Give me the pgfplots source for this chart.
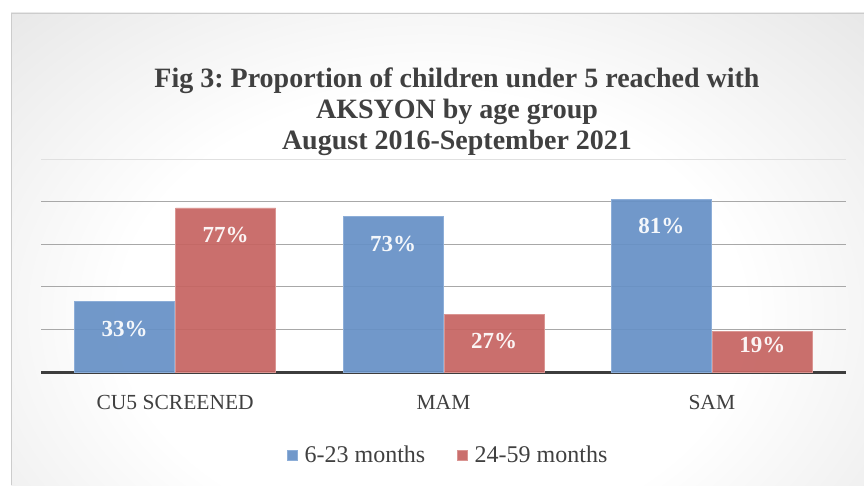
\documentclass[border=0pt]{standalone}
\usepackage{pgfplots}
\pgfplotsset{compat=1.18}
\usepackage{fontspec}
\setmainfont{Liberation Serif}
\frenchspacing
\definecolor{txt}{HTML}{404040}
\definecolor{barBlue}{HTML}{6791C6}
\definecolor{barBlueEdge}{HTML}{8DAED8}
\definecolor{barRed}{HTML}{C66562}
\definecolor{barRedEdge}{HTML}{DA9592}
\definecolor{gridGray}{HTML}{A8A8A8}
\pgfdeclareradialshading{bgglow}{\pgfpoint{0bp}{0bp}}{%
  color(0bp)=(white); color(18bp)=(white); color(40bp)=(white!88!black);
  color(60bp)=(white!78!black); color(75bp)=(white!76!black)}

\pgfplotstableread{
x  young  old
0  33     77
1  73     27
2  81     19
}\reach

\begin{document}
\begin{tikzpicture}
\path[use as bounding box] (0pt,0pt) rectangle (864pt,485pt);
\begin{scope}
\clip (11pt,0pt) rectangle (864pt,472pt);
\shade[shading=bgglow] (0pt,-140pt) rectangle (864pt,480pt);
\end{scope}
\draw[white!80!black,line width=0.6pt] (11pt,0pt) -- (11pt,472pt) -- (864pt,472pt);

\node[font=\fontsize{28}{31}\selectfont\bfseries,text=txt,align=center] at (457pt,373pt)
  {Fig 3: Proportion of children under 5 reached with\\AKSYON by age group\\August 2016-September 2021};

\begin{axis}[
  at={(41pt,113pt)}, anchor=south west,
  scale only axis, width=805pt, height=213pt,
  ybar=1pt, bar width=100pt,
  xmin=-0.5, xmax=2.5, ymin=0, ymax=100,
  axis x line*=bottom, axis y line*=left,
  y axis line style={draw=none},
  x axis line style={line width=3pt,color=txt!95!black,-},
  xtick={0,1,2}, xticklabels={CU5 SCREENED,MAM,SAM},
  major tick length=0pt,
  xticklabel style={font=\fontsize{21.5}{25}\selectfont,text=txt,yshift=-20pt},
  ytick={20,40,60,80}, yticklabels={}, ymajorgrids,
  extra y ticks={100}, extra y tick labels={},
  extra y tick style={grid style={white!88!black,line width=1pt}},
  grid style={gridGray,line width=1pt},
  /pgf/number format/assume math mode=true,
  nodes near coords={\pgfmathprintnumber{\pgfplotspointmeta}\%},
  visualization depends on={y \as \rawy},
  every node near coord/.append style={font=\fontsize{23}{27}\selectfont\bfseries,text=white,
    anchor=center,yshift={-min(27,\rawy*2.13-26.5)}},
  legend style={draw=none,fill=none,at={(axis description cs:0.506,-0.39)},anchor=center,
    font=\fontsize{24}{28}\selectfont,text=txt,legend columns=2,
    /tikz/every even column/.append style={column sep=30pt}},
  legend image code/.code={\fill[#1] (0pt,-5pt) rectangle (10pt,5pt);
    \path[draw=none,fill=none] (0pt,0pt) rectangle (15pt,0.1pt);},
]
\addplot[fill=barBlue,draw=barBlueEdge,line width=0.8pt,fill opacity=0.93] table[x=x,y=young]{\reach};
\addplot[fill=barRed,draw=barRedEdge,line width=0.8pt,fill opacity=0.93] table[x=x,y=old]{\reach};
\legend{6-23 months,24-59 months}
\end{axis}
\end{tikzpicture}
\end{document}
